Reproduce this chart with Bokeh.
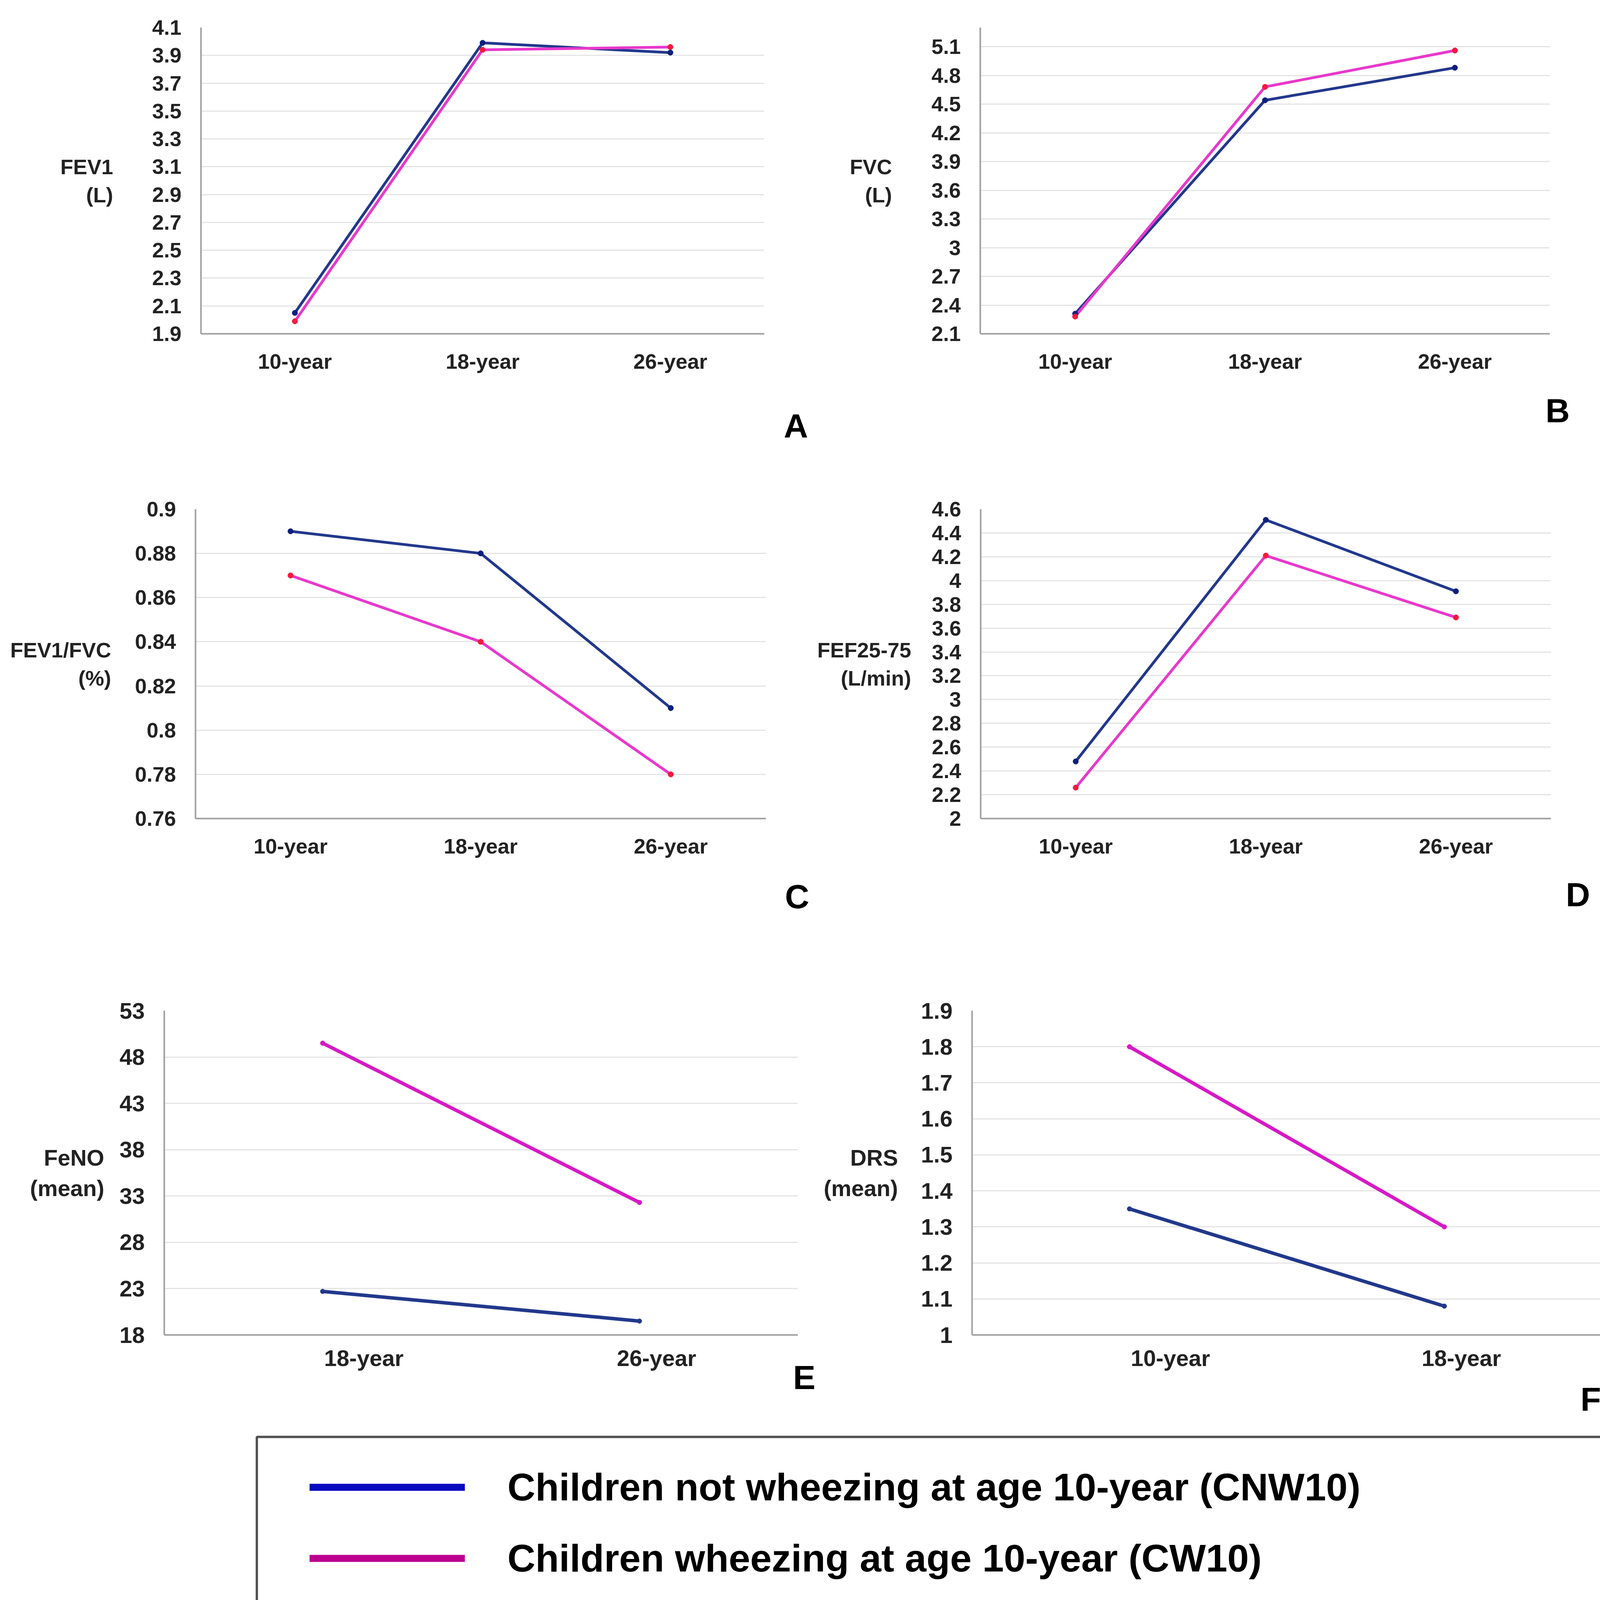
from bokeh.plotting import figure
from bokeh.layouts import column, row
from bokeh.models import (FactorRange, Range1d, FixedTicker, LinearAxis, Title,
                          Legend, LegendItem)
from bokeh.embed import file_html
from bokeh.resources import INLINE

# ---------------- data ----------------
ages_abcd = ["10-year", "18-year", "26-year"]
ages_feno = ["18-year", "26-year"]
ages_drs = ["10-year", "18-year"]

fev1_cnw10 = [2.05, 3.99, 3.92]
fev1_cw10 = [1.99, 3.94, 3.96]
fvc_cnw10 = [2.31, 4.54, 4.88]
fvc_cw10 = [2.28, 4.68, 5.06]
ratio_cnw10 = [0.89, 0.88, 0.81]
ratio_cw10 = [0.87, 0.84, 0.78]
fef_cnw10 = [2.48, 4.51, 3.91]
fef_cw10 = [2.26, 4.21, 3.69]
feno_cnw10 = [22.7, 19.5]
feno_cw10 = [49.5, 32.3]
drs_cnw10 = [1.35, 1.08]
drs_cw10 = [1.80, 1.30]

fev1_ticks = ["1.9", "2.1", "2.3", "2.5", "2.7", "2.9", "3.1", "3.3", "3.5", "3.7", "3.9", "4.1"]
fvc_ticks = ["2.1", "2.4", "2.7", "3", "3.3", "3.6", "3.9", "4.2", "4.5", "4.8", "5.1"]
ratio_ticks = ["0.76", "0.78", "0.8", "0.82", "0.84", "0.86", "0.88", "0.9"]
fef_ticks = ["2", "2.2", "2.4", "2.6", "2.8", "3", "3.2", "3.4", "3.6", "3.8", "4", "4.2", "4.4", "4.6"]
feno_ticks = ["18", "23", "28", "33", "38", "43", "48", "53"]
drs_ticks = ["1", "1.1", "1.2", "1.3", "1.4", "1.5", "1.6", "1.7", "1.8", "1.9"]

series_names = ["Children not wheezing at age 10-year (CNW10)",
                "Children wheezing at age 10-year (CW10)"]

# ---------------- style ----------------
FONT = "Liberation Sans"
TXT = "#222222"
AXIS_COL = "#a0a0a0"
GRID_COL = "#e4e4e4"
CNW_LINE, CNW_MARK = "#22388c", "#0d1f7d"
CW_LINE, CW_MARK = "#e838cc", "#f5193f"
CW_LINE_EF = "#d61ac6"
LEG_BLUE, LEG_PINK = "#0a0ac0", "#bd008f"


def make_panel(cats, cnw, cw, ticks, y_end, box, frame, ytitle, ytitle_standoff,
               letter, letter_offset, letter_standoff, big=False, label_fracs=None):
    fx0, fy0, fx1, fy1 = box
    L, T, R, B = frame
    ylo = float(ticks[0])
    yhi = y_end
    n = len(cats)
    p = figure(width=fx1 - fx0, height=fy1 - fy0,
               x_range=FactorRange(*cats), y_range=Range1d(ylo, yhi),
               min_border_left=L - fx0, min_border_right=fx1 - R,
               min_border_top=T - fy0, min_border_bottom=fy1 - B,
               x_axis_location=None if label_fracs else "below",
               output_backend="svg", toolbar_location=None)
    p.outline_line_color = None
    p.background_fill_color = "white"
    p.border_fill_color = "white"

    tick_fs = "58px" if big else "54px"
    title_fs = "58px" if big else "54px"

    tvals = [float(t) for t in ticks]
    yt = FixedTicker(ticks=tvals)
    ya = p.yaxis[0]
    ya.ticker = yt
    ya.major_label_overrides = {float(t): t for t in ticks}
    p.ygrid[0].ticker = yt
    p.ygrid.grid_line_color = GRID_COL
    p.ygrid.grid_line_width = 3
    p.xgrid.visible = False

    if label_fracs:
        # category labels sit slightly right of their points in the original
        xt = [f * n for f in label_fracs]
        xa = LinearAxis(ticker=FixedTicker(ticks=xt),
                        major_label_overrides={t: c for t, c in zip(xt, cats)})
        p.add_layout(xa, "below")
        xa.major_label_standoff = 26
    else:
        xa = p.xaxis[0]
        xa.major_label_standoff = 40

    for ax in (ya, xa):
        ax.axis_line_color = AXIS_COL
        ax.axis_line_width = 4
        ax.major_tick_line_color = None
        ax.minor_tick_line_color = None
        ax.major_tick_out = 0
        ax.minor_tick_out = 0
        ax.major_label_text_font = FONT
        ax.major_label_text_font_style = "bold"
        ax.major_label_text_font_size = tick_fs
        ax.major_label_text_color = TXT
    ya.major_label_standoff = 50

    # y-axis title, written horizontally left of the tick labels
    ya.axis_label = ytitle
    ya.axis_label_text_font = FONT
    ya.axis_label_text_font_style = "bold"
    ya.axis_label_text_font_size = title_fs
    ya.axis_label_text_color = TXT
    ya.axis_label_standoff = ytitle_standoff
    try:
        ya.axis_label_orientation = "horizontal"
    except Exception:
        pass
    try:
        ya.axis_label_text_align = "center"
    except Exception:
        pass

    if big:
        p.line(cats, cnw, line_color=CNW_LINE, line_width=9)
        p.line(cats, cw, line_color=CW_LINE_EF, line_width=9)
        p.scatter(cats, cnw, size=12, color=CNW_LINE)
        p.scatter(cats, cw, size=12, color=CW_LINE_EF)
    else:
        p.line(cats, cnw, line_color=CNW_LINE, line_width=7)
        p.line(cats, cw, line_color=CW_LINE, line_width=7)
        p.scatter(cats, cnw, size=14, color=CNW_MARK)
        p.scatter(cats, cw, size=14, color=CW_MARK)

    # panel letter
    t = Title(text=letter, align="right", offset=letter_offset,
              text_font=FONT, text_font_style="bold", text_font_size="86px",
              text_color="black")
    try:
        t.standoff = letter_standoff
    except Exception:
        t.standoff = 0
    p.add_layout(t, "below")
    return p


S = 2096
pA = make_panel(ages_abcd, fev1_cnw10, fev1_cw10, fev1_ticks, 4.1,
                (8, 8, S, 1228), (522, 78, 1964, 862),
                "FEV1\n(L)", 97, "A", -112, 164)
pB = make_panel(ages_abcd, fvc_cnw10, fvc_cw10, fvc_ticks, 5.3,
                (S, 8, 4158, 1228), (2517, 78, 3975, 862),
                "FVC\n(L)", 98, "B", -51, 86)
pC = make_panel(ages_abcd, ratio_cnw10, ratio_cw10, ratio_ticks, 0.9,
                (8, 1228, S, 2470), (508, 1311, 1968, 2103),
                "FEV1/FVC\n(%)", 58, "C", -111, 92)
pD = make_panel(ages_abcd, fef_cnw10, fef_cw10, fef_ticks, 4.6,
                (S, 1228, 4158, 2470), (2518, 1311, 3978, 2103),
                "FEF25-75\n(L/min)", 50, "D", -100, 82)
pE = make_panel(ages_feno, feno_cnw10, feno_cw10, feno_ticks, 53.0,
                (8, 2470, S, 3660), (428, 2595, 2050, 3425),
                "FeNO\n(mean)", 36, "E", -45, -72,
                big=True, label_fracs=(0.315, 0.777))
pF = make_panel(ages_drs, drs_cnw10, drs_cw10, drs_ticks, 1.9,
                (S, 2470, 4158, 3660), (2496, 2595, 4108, 3425),
                "DRS\n(mean)", 56, "F", 2, 40,
                big=True, label_fracs=(0.315, 0.777))

# ---------------- legend ----------------
lg = figure(width=4150, height=500, x_range=FactorRange(*ages_abcd),
            y_range=Range1d(0, 1),
            min_border_left=657, min_border_right=40, min_border_top=26,
            min_border_bottom=23, x_axis_location=None, y_axis_location=None,
            output_backend="svg", toolbar_location=None)
for g in lg.grid:
    g.visible = False
lg.outline_line_color = "#505050"
lg.outline_line_width = 6
# series lines kept outside the visible range; only their legend glyphs show
r1 = lg.line(ages_abcd, fev1_cnw10, line_color=LEG_BLUE, line_width=18)
r2 = lg.line(ages_abcd, fev1_cw10, line_color=LEG_PINK, line_width=18)
legend = Legend(items=[LegendItem(label=series_names[0], renderers=[r1]),
                       LegendItem(label=series_names[1], renderers=[r2])],
                location=(135, 49), padding=0, margin=0, spacing=0,
                glyph_width=398, glyph_height=182, label_height=182,
                label_standoff=109, border_line_color=None,
                background_fill_alpha=0,
                label_text_font=FONT, label_text_font_style="bold",
                label_text_font_size="99px", label_text_color="black",
                label_text_baseline="middle")
lg.add_layout(legend)

layout = column(row(pA, pB), row(pC, pD), row(pE, pF), lg)
open("out.html", "w").write(file_html(layout, INLINE))
